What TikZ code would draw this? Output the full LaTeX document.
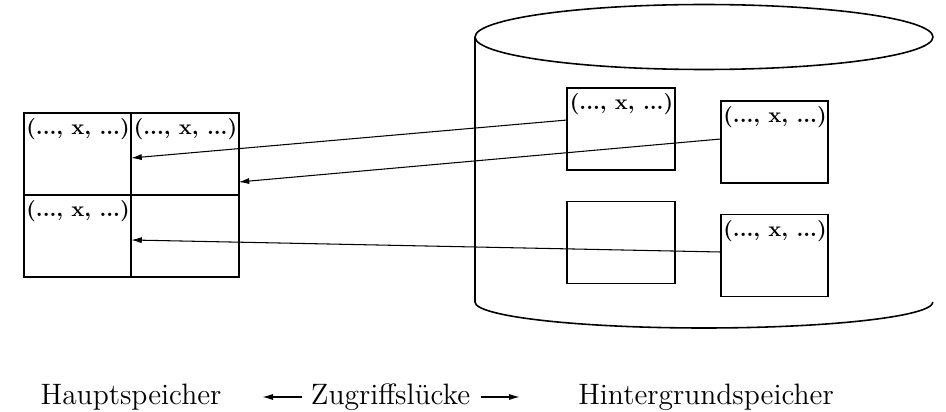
\documentclass[tikz,border=0pt]{standalone}
\usepackage{tikz}
\usetikzlibrary{arrows.meta,calc,positioning}
\tikzset{
  cell/.style={draw,line width=0.9pt,minimum width=2.15cm,minimum height=1.64cm,inner sep=0pt,outer sep=0pt},
  tuple/.style={anchor=north west,inner xsep=1pt,inner ysep=2.5pt,font=\bfseries,scale=1.22,transform shape},
  fetch/.style={-{Latex[length=6pt,width=3.5pt]},line width=0.6pt},
  caption/.style={inner sep=0pt,font=\fontsize{12}{14}\selectfont,scale=1.4,transform shape}
}
\newcommand{\tup}{(..., x, ...)}

\begin{document}
\begin{tikzpicture}[x=0.02cm,y=-0.02cm]
\useasboundingbox (0,0) rectangle (946,412);
% Hauptspeicher: 2x2 Seiten
\node[cell] (c11) at (77.5,154) {};
\node[cell,right=0pt of c11] (c12) {};
\node[cell,below=0pt of c11] (c21) {};
\node[cell,right=0pt of c21] (c22) {};
\node[tuple] (t11) at (c11.north west) {\tup};
\node[tuple] (t12) at (c12.north west) {\tup};
\node[tuple] (t21) at (c21.north west) {\tup};
% Hintergrundspeicher (Platte)
\draw[line width=0.9pt] (704,37) ellipse[x radius=4.58cm,y radius=0.65cm];
\draw[line width=0.9pt] (475,37) -- (475,302)
  arc[start angle=180,end angle=360,x radius=4.58cm,y radius=0.52cm];
\node[cell] (pa) at (621,129) {};
\node[cell] (pb) at (774.5,142) {};
\node[cell] (pc) at (621,242.5) {};
\node[cell] (pd) at (774.5,255.5) {};
\node[tuple] (ta) at (pa.north west) {\tup};
\node[tuple] (tb) at (pb.north west) {\tup};
\node[tuple] (td) at (pd.north west) {\tup};
% Einlagern
\draw[fetch] ([yshift=0.18cm]pa.west) -- ([yshift=-0.08cm]c11.east);
\draw[fetch] ([yshift=0.06cm]pb.west) -- ([yshift=-0.56cm]c12.east);
\draw[fetch] ([yshift=0.07cm]pd.west) -- ([yshift=-0.08cm]c21.east);
% Beschriftung
\node[caption] (haupt) at (131,397) {Hauptspeicher};
\node[caption] (zug) at (390.5,397) {Zugriffsl\"ucke};
\node[caption] (hint) at (706,397) {Hintergrundspeicher};
\draw[fetch] ([xshift=-0.16cm]zug.west) -- ++(-0.8cm,0) coordinate (gl);
\draw[fetch] ([xshift=0.2cm]zug.east) -- ++(0.78cm,0) coordinate (gr);
\end{tikzpicture}
\end{document}
